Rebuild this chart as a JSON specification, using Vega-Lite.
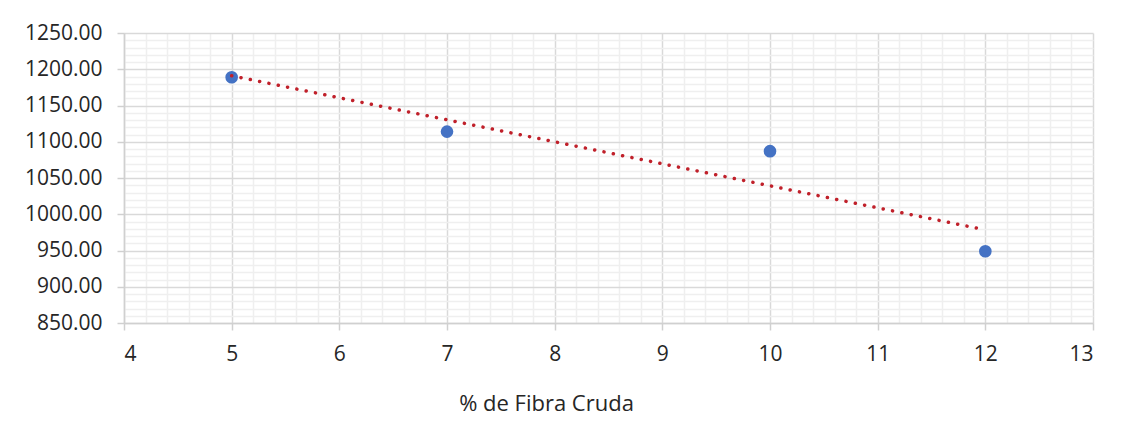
{
  "$schema": "https://vega.github.io/schema/vega-lite/v6.json",
  "width": 969,
  "height": 290,
  "autosize": {"type": "none"},
  "padding": {"left": 124, "top": 33, "right": 37, "bottom": 118},
  "background": "white",
  "config": {
    "view": {"stroke": null},
    "font": "Open Sans"
  },
  "data": {
    "values": [
      {"fibra": 5, "valor": 1189},
      {"fibra": 7, "valor": 1114},
      {"fibra": 10, "valor": 1087},
      {"fibra": 12, "valor": 949}
    ]
  },
  "layer": [
    {
      "mark": {"type": "circle", "size": 160, "color": "#4472C4", "opacity": 1},
      "encoding": {
        "x": {
          "field": "fibra",
          "type": "quantitative",
          "scale": {"domain": [4, 13], "nice": false, "zero": false},
          "axis": {
            "title": "% de Fibra Cruda",
            "titleFont": "Open Sans",
            "titleFontSize": 22,
            "titleFontWeight": "normal",
            "titleColor": "#262626",
            "titleX": 422,
            "titleY": 70,
            "tickCount": 200,
            "values": [4, 4.2, 4.4, 4.6, 4.8, 5, 5.2, 5.4, 5.6, 5.8, 6, 6.2, 6.4, 6.6, 6.8, 7, 7.2, 7.4, 7.6, 7.8, 8, 8.2, 8.4, 8.6, 8.8, 9, 9.2, 9.4, 9.6, 9.8, 10, 10.2, 10.4, 10.6, 10.8, 11, 11.2, 11.4, 11.6, 11.8, 12, 12.2, 12.4, 12.6, 12.8, 13],
            "labelExpr": "datum.value % 1 === 0 ? format(datum.value, 'd') : ''",
            "labelOverlap": false,
            "labelFont": "Open Sans",
            "labelFontSize": 21,
            "labelColor": "#262626",
            "labelPadding": 13,
            "domainColor": "#d0d0d0",
            "domainWidth": 1.5,
            "tickColor": "#d0d0d0",
            "tickWidth": 1.5,
            "tickSize": 7,
            "tickOpacity": {"condition": {"test": "datum.value % 1 === 0", "value": 1}, "value": 0},
            "grid": true,
            "gridColor": {"condition": {"test": "datum.value % 1 === 0", "value": "#d9d9d9"}, "value": "#efefef"},
            "gridWidth": 1.5
          }
        },
        "y": {
          "field": "valor",
          "type": "quantitative",
          "scale": {"domain": [850, 1250], "nice": false, "zero": false},
          "axis": {
            "title": null,
            "tickCount": 200,
            "values": [850, 860, 870, 880, 890, 900, 910, 920, 930, 940, 950, 960, 970, 980, 990, 1000, 1010, 1020, 1030, 1040, 1050, 1060, 1070, 1080, 1090, 1100, 1110, 1120, 1130, 1140, 1150, 1160, 1170, 1180, 1190, 1200, 1210, 1220, 1230, 1240, 1250],
            "labelExpr": "datum.value % 50 === 0 ? format(datum.value, '.2f') : ''",
            "labelOverlap": false,
            "labelFont": "Open Sans",
            "labelFontSize": 21,
            "labelColor": "#262626",
            "labelPadding": 15,
            "domainColor": "#d0d0d0",
            "domainWidth": 1.5,
            "tickColor": "#d0d0d0",
            "tickWidth": 1.5,
            "tickSize": 7,
            "tickOpacity": {"condition": {"test": "datum.value % 50 === 0", "value": 1}, "value": 0},
            "grid": true,
            "gridColor": {"condition": {"test": "datum.value % 50 === 0", "value": "#d9d9d9"}, "value": "#efefef"},
            "gridWidth": 1.5
          }
        }
      }
    },
    {
      "transform": [{"regression": "valor", "on": "fibra"}],
      "mark": {
        "type": "line",
        "color": "#C0202A",
        "strokeWidth": 3.5,
        "strokeCap": "round",
        "strokeDash": [0.1, 9.4]
      },
      "encoding": {
        "x": {"field": "fibra", "type": "quantitative"},
        "y": {"field": "valor", "type": "quantitative"}
      }
    }
  ]
}
